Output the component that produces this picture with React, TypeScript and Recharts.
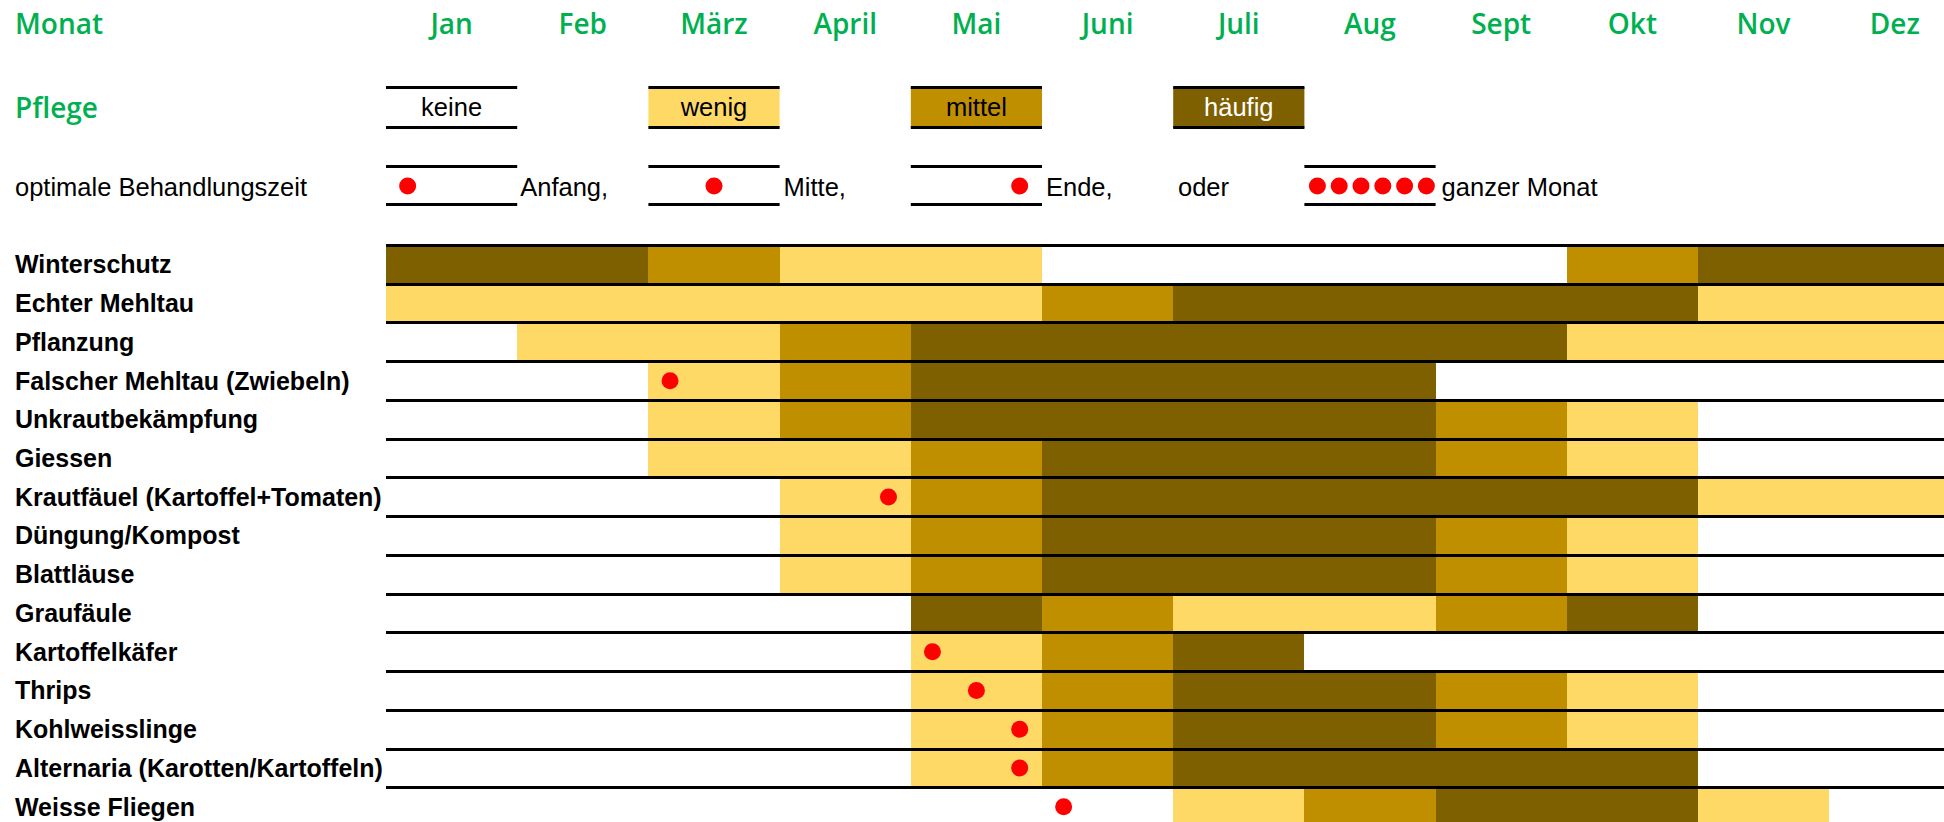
import React from 'react'
import { ComposedChart, Bar, XAxis, YAxis, Cell } from 'recharts'

// Monate (Spalten) und Aufgaben (Zeilen)
const months = ['Jan', 'Feb', 'März', 'April', 'Mai', 'Juni', 'Juli', 'Aug', 'Sept', 'Okt', 'Nov', 'Dez']
const tasks = [
  'Winterschutz',
  'Echter Mehltau',
  'Pflanzung',
  'Falscher Mehltau (Zwiebeln)',
  'Unkrautbekämpfung',
  'Giessen',
  'Krautfäuel (Kartoffel+Tomaten)',
  'Düngung/Kompost',
  'Blattläuse',
  'Graufäule',
  'Kartoffelkäfer',
  'Thrips',
  'Kohlweisslinge',
  'Alternaria (Karotten/Kartoffeln)',
  'Weisse Fliegen',
]

// Pflegestufe je Monat: 0 keine, 1 wenig, 2 mittel, 3 häufig
const winterschutz = [3, 3, 2, 1, 1, 0, 0, 0, 0, 2, 3, 3]
const echterMehltau = [1, 1, 1, 1, 1, 2, 3, 3, 3, 3, 1, 1]
const pflanzung = [0, 1, 1, 2, 3, 3, 3, 3, 3, 1, 1, 1]
const falscherMehltau = [0, 0, 1, 2, 3, 3, 3, 3, 0, 0, 0, 0]
const unkraut = [0, 0, 1, 2, 3, 3, 3, 3, 2, 1, 0, 0]
const giessen = [0, 0, 1, 1, 2, 3, 3, 3, 2, 1, 0, 0]
const krautfaeule = [0, 0, 0, 1, 2, 3, 3, 3, 3, 3, 1, 1]
const duengung = [0, 0, 0, 1, 2, 3, 3, 3, 2, 1, 0, 0]
const blattlaeuse = [0, 0, 0, 1, 2, 3, 3, 3, 2, 1, 0, 0]
const graufaeule = [0, 0, 0, 0, 3, 2, 1, 1, 2, 3, 0, 0]
const kartoffelkaefer = [0, 0, 0, 0, 1, 2, 3, 0, 0, 0, 0, 0]
const thrips = [0, 0, 0, 0, 1, 2, 3, 3, 2, 1, 0, 0]
const kohlweisslinge = [0, 0, 0, 0, 1, 2, 3, 3, 2, 1, 0, 0]
const alternaria = [0, 0, 0, 0, 1, 2, 3, 3, 3, 3, 0, 0]
const weisseFliegen = [0, 0, 0, 0, 0, 0, 1, 2, 3, 3, 1, 0]

// optimale Behandlungszeit: Monat (-1 = keine) und Zeitpunkt im Monat
const treatmentMonth = [-1, -1, -1, 2, -1, -1, 3, -1, -1, -1, 4, 4, 4, 4, 5]
const treatmentPhase = ['', '', '', 'Anfang', '', '', 'Ende', '', '', '', 'Anfang', 'Mitte', 'Ende', 'Ende', 'Anfang']

const levelNames = ['keine', 'wenig', 'mittel', 'häufig']
const levelColors = ['#FFFFFF', '#FFD966', '#BF8F00', '#7F6000']
const phaseOffset: Record<string, number> = { Anfang: 0.165, Mitte: 0.5, Ende: 0.83 }

const levels = [
  winterschutz, echterMehltau, pflanzung, falscherMehltau, unkraut, giessen, krautfaeule,
  duengung, blattlaeuse, graufaeule, kartoffelkaefer, thrips, kohlweisslinge, alternaria, weisseFliegen,
]

const rows = tasks.map((name, r) => {
  const row: any = { name, dotMonth: treatmentMonth[r], dotPhase: treatmentPhase[r] }
  months.forEach((_, m) => {
    row[`m${m}`] = 1
    row[`lv${m}`] = levels[r][m]
  })
  return row
})

const PLOT_LEFT = 386
const COL_W = 131.2
const PLOT_TOP = 244
const ROW_H = 38.75
const AXIS_H = 40
const CHART_W = PLOT_LEFT + COL_W * 12
const CHART_H = Math.round(PLOT_TOP + ROW_H * tasks.length)

const GREEN = '#00B050'
const HEAD_FONT = '"Open Sans", "Noto Sans", sans-serif'
const TEXT_FONT = '"Liberation Sans", Arial, sans-serif'
const RED = '#FF0000'

const colX = (m: number) => PLOT_LEFT + m * COL_W

function Segment(props: any) {
  const { x, y, width, height, fill, payload, month } = props
  const dot = payload.dotMonth === month
  return (
    <g>
      <rect x={x} y={y} width={width + 1} height={height + 0.5} fill={fill} shapeRendering="crispEdges" />
      <rect x={x} y={y} width={width + 1} height={3} fill="#000" shapeRendering="crispEdges" />
      {dot && (
        <circle cx={x + width * phaseOffset[payload.dotPhase]} cy={y + height / 2 + 1} r={8.5} fill={RED} />
      )}
    </g>
  )
}

function MonthTick(props: any) {
  const { x, payload } = props
  return (
    <text x={x} y={23} textAnchor="middle" dominantBaseline="central" fill={GREEN}
      fontFamily={HEAD_FONT} fontWeight={600} fontSize={28}>
      {months[Math.floor(payload.value)]}
    </text>
  )
}

function RowTick(props: any) {
  const { y, payload } = props
  return (
    <text x={15} y={y + 1} dominantBaseline="central" fill="#000"
      fontFamily={TEXT_FONT} fontWeight="bold" fontSize={25}>
      {payload.value}
    </text>
  )
}

function Legend() {
  const pflegeCols = [0, 2, 4, 6]
  const timeCols = [0, 2, 4, 7]
  const timeLabels = [
    { text: 'Anfang,', x: colX(1) + 3 },
    { text: 'Mitte,', x: colX(3) + 4 },
    { text: 'Ende,', x: colX(5) + 4 },
    { text: 'oder', x: 1178 },
    { text: 'ganzer Monat', x: colX(8) + 6 },
  ]
  const phases = ['Anfang', 'Mitte', 'Ende']
  return (
    <svg width={1944} height={240} style={{ position: 'absolute', left: 0, top: 0 }}>
      <text x={15} y={23} dominantBaseline="central" fill={GREEN} fontFamily={HEAD_FONT} fontWeight={600} fontSize={28}>Monat</text>
      <text x={15} y={107} dominantBaseline="central" fill={GREEN} fontFamily={HEAD_FONT} fontWeight={600} fontSize={28}>Pflege</text>
      {pflegeCols.map((m, k) => (
        <g key={levelNames[k]}>
          <rect x={colX(m)} y={87} width={COL_W} height={41} fill={levelColors[k]} />
          <rect x={colX(m)} y={86} width={COL_W} height={3} fill="#000" />
          <rect x={colX(m)} y={126} width={COL_W} height={3} fill="#000" />
          <text x={colX(m) + COL_W / 2} y={107} textAnchor="middle" dominantBaseline="central"
            fill={k === 3 ? '#FFFFFF' : '#000'} fontFamily={TEXT_FONT} fontSize={25.5}>{levelNames[k]}</text>
        </g>
      ))}
      <text x={15} y={187} dominantBaseline="central" fill="#000" fontFamily={TEXT_FONT} fontSize={25.5}>optimale Behandlungszeit</text>
      {timeCols.map((m, k) => (
        <g key={m}>
          <rect x={colX(m)} y={165} width={COL_W} height={3} fill="#000" />
          <rect x={colX(m)} y={203} width={COL_W} height={3} fill="#000" />
          {k < 3 ? (
            <circle cx={colX(m) + COL_W * phaseOffset[phases[k]]} cy={186} r={8.5} fill={RED} />
          ) : (
            [0, 1, 2, 3, 4, 5].map((d) => (
              <circle key={d} cx={colX(m) + 13 + d * 21.8} cy={186} r={8.5} fill={RED} />
            ))
          )}
        </g>
      ))}
      {timeLabels.map((t) => (
        <text key={t.text} x={t.x} y={187} dominantBaseline="central" fill="#000" fontFamily={TEXT_FONT} fontSize={25.5}>{t.text}</text>
      ))}
    </svg>
  )
}

export default function App() {
  const ticks = months.map((_, i) => i + 0.5)
  return (
    <div style={{ position: 'absolute', left: 0, top: 0, width: 1944, height: 822, overflow: 'hidden', background: '#fff' }}>
      <ComposedChart
        width={CHART_W}
        height={CHART_H}
        data={rows}
        layout="vertical"
        margin={{ top: PLOT_TOP - AXIS_H, right: 0, bottom: 0, left: 0 }}
        barCategoryGap={0}
        barGap={0}
      >
        <XAxis type="number" orientation="top" domain={[0, 12]} ticks={ticks} height={AXIS_H}
          axisLine={false} tickLine={false} tick={<MonthTick />} interval={0} />
        <YAxis type="category" dataKey="name" width={PLOT_LEFT} axisLine={false} tickLine={false}
          tick={<RowTick />} interval={0} />
        {months.map((mName, m) => (
          <Bar key={mName} dataKey={`m${m}`} stackId="plan" isAnimationActive={false}
            shape={(p: any) => <Segment {...p} month={m} />}>
            {rows.map((r) => (
              <Cell key={r.name} fill={levelColors[r[`lv${m}`]]} />
            ))}
          </Bar>
        ))}
      </ComposedChart>
      <Legend />
    </div>
  )
}
